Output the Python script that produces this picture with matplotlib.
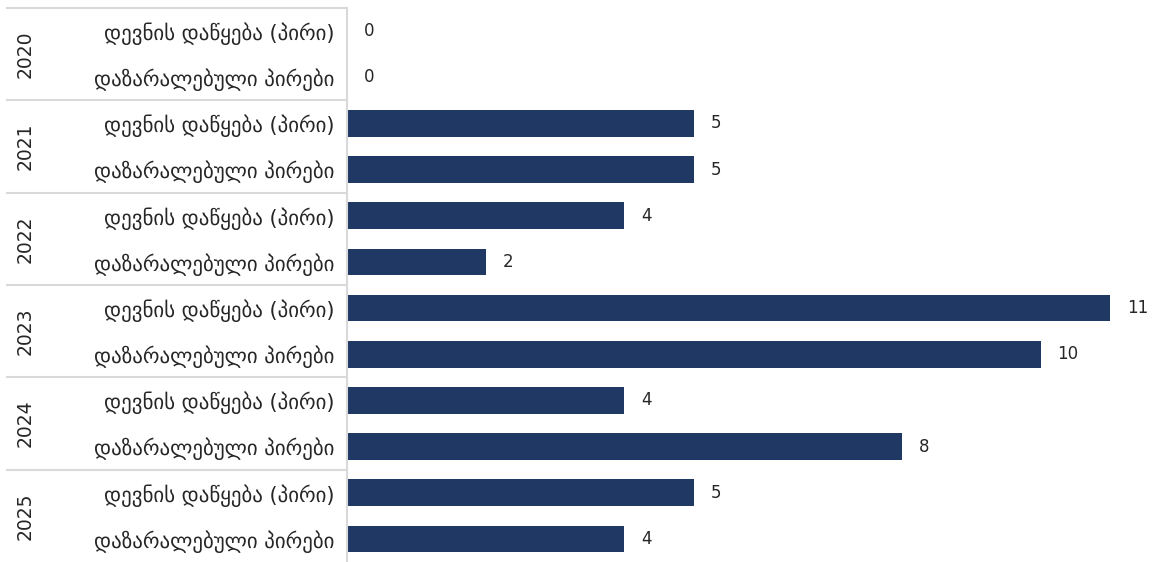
import matplotlib.pyplot as plt
import matplotlib.transforms as mtransforms

plt.rcParams['font.family'] = ['DejaVu Sans']

years = ['2020', '2021', '2022', '2023', '2024', '2025']
categories = ['დევნის დაწყება (პირი)', 'დაზარალებული პირები']
started = [0, 5, 4, 11, 4, 5]
victims = [0, 5, 2, 10, 8, 4]

bar_color = '#1f3864'
grid_color = '#d9d9d9'

labels = []
values = []
for s, v in zip(started, victims):
    labels += categories
    values += [s, v]
rows = list(range(len(values)))

fig = plt.figure(figsize=(11.55, 5.62), dpi=100)
ax = fig.add_axes([347/1155, 0, 763/1155, 1 - 8/562])

bars = ax.barh(rows, values, height=0.58, color=bar_color)
ax.bar_label(bars, padding=12, fontsize=12, color='#262626')

ax.set_xlim(0, 11)
ax.set_ylim(len(values) - 0.5, -0.5)
ax.set_xticks([])
ax.set_yticks(rows)
ax.set_yticklabels(labels, fontsize=15, color='#262626')
ax.tick_params(axis='y', length=0, pad=9)

for side in ['top', 'right', 'bottom']:
    ax.spines[side].set_visible(False)
ax.spines['left'].set_color(grid_color)
ax.spines['left'].set_linewidth(1.5)

trans = mtransforms.blended_transform_factory(ax.transAxes, ax.transData)
for k in range(len(years)):
    y = 2 * k - 0.5
    ax.plot([-0.445, 0], [y, y], color=grid_color, lw=1.5,
            transform=trans, clip_on=False)

for i, yr in enumerate(years):
    ax.text(-0.422, 2 * i + 0.5, yr, transform=trans, rotation=90,
            ha='center', va='center', fontsize=13.5, color='#262626')

fig.savefig('out.png', dpi=100)
